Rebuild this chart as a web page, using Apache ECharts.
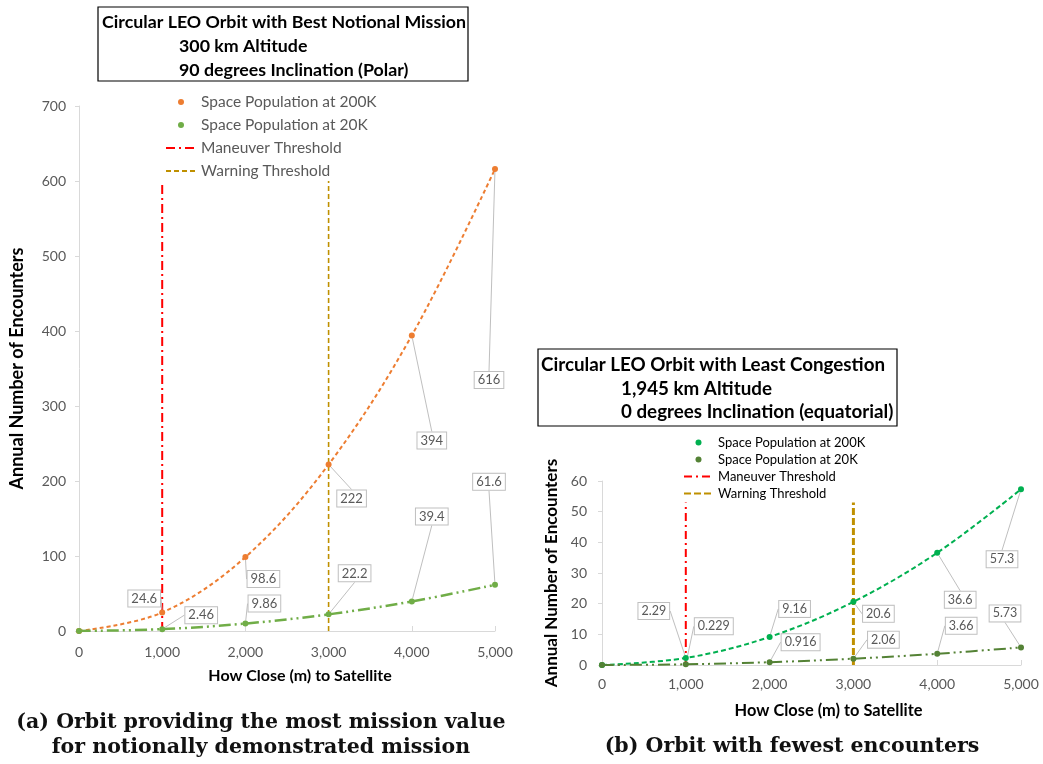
<!DOCTYPE html>
<html><head><meta charset="utf-8">
<script src="https://cdn.jsdelivr.net/npm/echarts@6/dist/echarts.min.js"></script>
<style>
html,body{margin:0;padding:0;background:#fff;}
#a{position:absolute;left:0;top:0;width:530px;height:764px;}
#b{position:absolute;left:530px;top:0;width:513px;height:764px;}
</style></head>
<body><div id="a"></div><div id="b"></div>
<script>
// ---------- data ----------
const distances = [0, 1000, 2000, 3000, 4000, 5000];
const xTicks = [0, 1000, 2000, 3000, 4000, 5000];
// (a) Polar 300 km orbit
const polar200K = [0, 24.6, 98.6, 222, 394, 616];
const polar20K  = [0, 2.46, 9.86, 22.2, 39.4, 61.6];
const polarManeuver = [[1000, 0], [1000, 600]];
const polarWarning  = [[3000, 0], [3000, 600]];
// (b) Equatorial 1,945 km orbit
const equat200K = [0, 2.29, 9.16, 20.6, 36.6, 57.3];
const equat20K  = [0, 0.229, 0.916, 2.06, 3.66, 5.73];
const equatManeuver = [[1000, 0], [1000, 53]];
const equatWarning  = [[3000, 0], [3000, 53]];

const seriesNames = ['Space Population at 200K', 'Space Population at 20K', 'Maneuver Threshold', 'Warning Threshold'];
const titleA = ['Circular LEO Orbit with Best Notional Mission', '300 km Altitude', '90 degrees Inclination (Polar)'];
const titleB = ['Circular LEO Orbit with Least Congestion', '1,945 km Altitude', '0 degrees Inclination (equatorial)'];
const captionA = ['(a) Orbit providing the most mission value', 'for notionally demonstrated mission'];
const captionB = ['(b) Orbit with fewest encounters'];
const yName = 'Annual Number of Encounters';
const xName = 'How Close (m) to Satellite';

// ---------- styling (label callout offsets in px) ----------
const offA200 = [null, [-18, -14], [18, 22], [23, 34], [20, 105], [-6, 211]];
const offA20  = [null, [39, -14], [19, -20], [26, -41], [20, -85], [-6, -103]];
const offB200 = [null, [-32, -47], [25, -28], [25, 12], [23, 47], [-19, 70]];
const offB20  = [null, [28, -38], [31, -20], [30, -19], [24, -28], [-16, -34]];

const FONT = 'Lato, "Open Sans", sans-serif';
const GRAY = '#595959';

function pairs(vals){
  return distances.map((d,i)=> i === 0
    ? {value:[d, vals[i]], label:{show:false}, labelLine:{show:false}}
    : {value:[d, vals[i]]});
}

function valSeries(name, vals, color, lineType, width, offs, fontSize){
  return {
    name, type:'line', data: pairs(vals), smooth:0.35,
    symbol:'circle', symbolSize:6, color,
    itemStyle:{color},
    lineStyle:{color, type: lineType, width},
    label:{show:true, position:'inside', color:GRAY, fontFamily:FONT, fontSize,
      backgroundColor:'#fff', borderColor:'#BFBFBF', borderWidth:1, padding:[2,3,1,3],
      formatter: p => String(p.value[1])},
    labelLine:{show:true, lineStyle:{color:'#BFBFBF', width:1}},
    labelLayout: p => { const o = offs[p.dataIndex]; return o ? {dx:o[0], dy:o[1]} : {}; },
    z: 5
  };
}
function thrSeries(name, pts, color, type, width){
  return {name, type:'line', data:pts, showSymbol:false, symbol:'none', color,
    lineStyle:{color, type, width}, itemStyle:{color}, z:3, silent:true};
}
function titleGraphic(lines, x, y, w, h, lx1, lx2, ys, fs){
  const g = [{type:'rect', shape:{x, y, width:w, height:h}, style:{fill:'#fff', stroke:'#000', lineWidth:1.2}}];
  lines.forEach((t,i)=>g.push({type:'text', x: i===0?lx1:lx2, y: ys[i],
    style:{text:t, font:'bold '+fs+'px '+FONT, fill:'#000', textVerticalAlign:'middle'}}));
  return g;
}
function captionGraphic(lines, cx, ys){
  return lines.map((t,i)=>({type:'text', x:cx, y:ys[i],
    style:{text:t, font:'bold 20.5px "DejaVu Serif", serif', fill:'#111', textAlign:'center', textVerticalAlign:'middle'}}));
}
function axes(yMax, yInt, o){
  return {
    xAxis:{type:'value', min:0, max:5000, interval:1000,
      name:xName, nameLocation:'middle', nameGap:o.xGap,
      nameTextStyle:{fontFamily:FONT, fontWeight:'bold', fontSize:o.xNameFs, color:'#000', padding:[0,0,0,o.xShift]},
      axisLine:{lineStyle:{color:'#D9D9D9', width:1}},
      axisTick:{show:true, inside:true, length:5, lineStyle:{color:'#D9D9D9'}},
      axisLabel:{color:GRAY, fontFamily:FONT, fontSize:14, margin:o.xMargin,
        formatter: v => xTicks.includes(v) ? v.toLocaleString('en-US') : ''},
      splitLine:{show:false}},
    yAxis:{type:'value', min:0, max:yMax, interval:yInt,
      name:yName, nameLocation:'middle', nameGap:o.yGap, nameRotate:90,
      nameTextStyle:{fontFamily:FONT, fontWeight:'bold', fontSize:o.yNameFs, color:'#000'},
      axisLine:{show:true, lineStyle:{color:'#D9D9D9', width:1}},
      axisTick:{show:true, length:4, lineStyle:{color:'#D9D9D9'}},
      axisLabel:{color:GRAY, fontFamily:FONT, fontSize:14, margin:o.yMargin},
      splitLine:{show:false}}
  };
}
function legendData(){
  return [{name:seriesNames[0], icon:'circle'}, {name:seriesNames[1], icon:'circle'},
    {name:seriesNames[2], itemStyle:{opacity:0}}, {name:seriesNames[3], itemStyle:{opacity:0}}];
}

// ---------- chart (a) ----------
const ca = echarts.init(document.getElementById('a'), null, {renderer:'canvas'});
const axA = axes(700, 100, {xGap:37, xNameFs:16, xMargin:14, xShift:26, yGap:53, yNameFs:18, yMargin:13});
ca.setOption({
  animation:false, backgroundColor:'#fff',
  grid:{left:79, top:106, width:416, height:525, outerBoundsMode:'none', containLabel:false},
  xAxis: axA.xAxis, yAxis: axA.yAxis,
  legend:{orient:'vertical', left:165, top:94, padding:0, itemWidth:30, itemHeight:6, itemGap:7,
    textStyle:{color:GRAY, fontFamily:FONT, fontSize:15.5},
    data: legendData()},
  series:[
    thrSeries(seriesNames[2], polarManeuver, '#FF0000', [9,4,2,4], 2),
    thrSeries(seriesNames[3], polarWarning, '#BF9000', [5,3], 1.6),
    valSeries(seriesNames[0], polar200K, '#ED7D31', [4,3], 2, offA200, 13),
    valSeries(seriesNames[1], polar20K, '#70AD47', [12,4,2,4,2,4], 2.5, offA20, 13)
  ],
  graphic: titleGraphic(titleA, 98, 7, 370, 74, 102, 179, [22, 46, 70], 17.8)
    .concat(captionGraphic(captionA, 261, [723, 748]))
});

// ---------- chart (b) ----------
const cb = echarts.init(document.getElementById('b'), null, {renderer:'canvas'});
const axB = axes(60, 10, {xGap:38, xNameFs:16.4, xMargin:12, xShift:34, yGap:33, yNameFs:17, yMargin:15});
cb.setOption({
  animation:false, backgroundColor:'#fff',
  grid:{left:72, top:481, width:419, height:184, outerBoundsMode:'none', containLabel:false},
  xAxis: axB.xAxis, yAxis: axB.yAxis,
  legend:{orient:'vertical', left:153, top:436, padding:0, itemWidth:29, itemHeight:6, itemGap:4,
    textStyle:{color:'#000', fontFamily:FONT, fontSize:13},
    data: legendData()},
  series:[
    thrSeries(seriesNames[2], equatManeuver, '#FF0000', [8,4,2,4], 2),
    thrSeries(seriesNames[3], equatWarning, '#BF9000', [7,3], 3),
    valSeries(seriesNames[0], equat200K, '#00B050', [5,3], 2, offB200, 12.5),
    valSeries(seriesNames[1], equat20K, '#548235', [12,4,2,4,2,4], 2, offB20, 12.5)
  ],
  graphic: titleGraphic(titleB, 8, 349, 359, 77, 11, 91, [365, 389, 412], 18.8)
    .concat(captionGraphic(captionB, 262, [747]))
});
</script></body></html>
